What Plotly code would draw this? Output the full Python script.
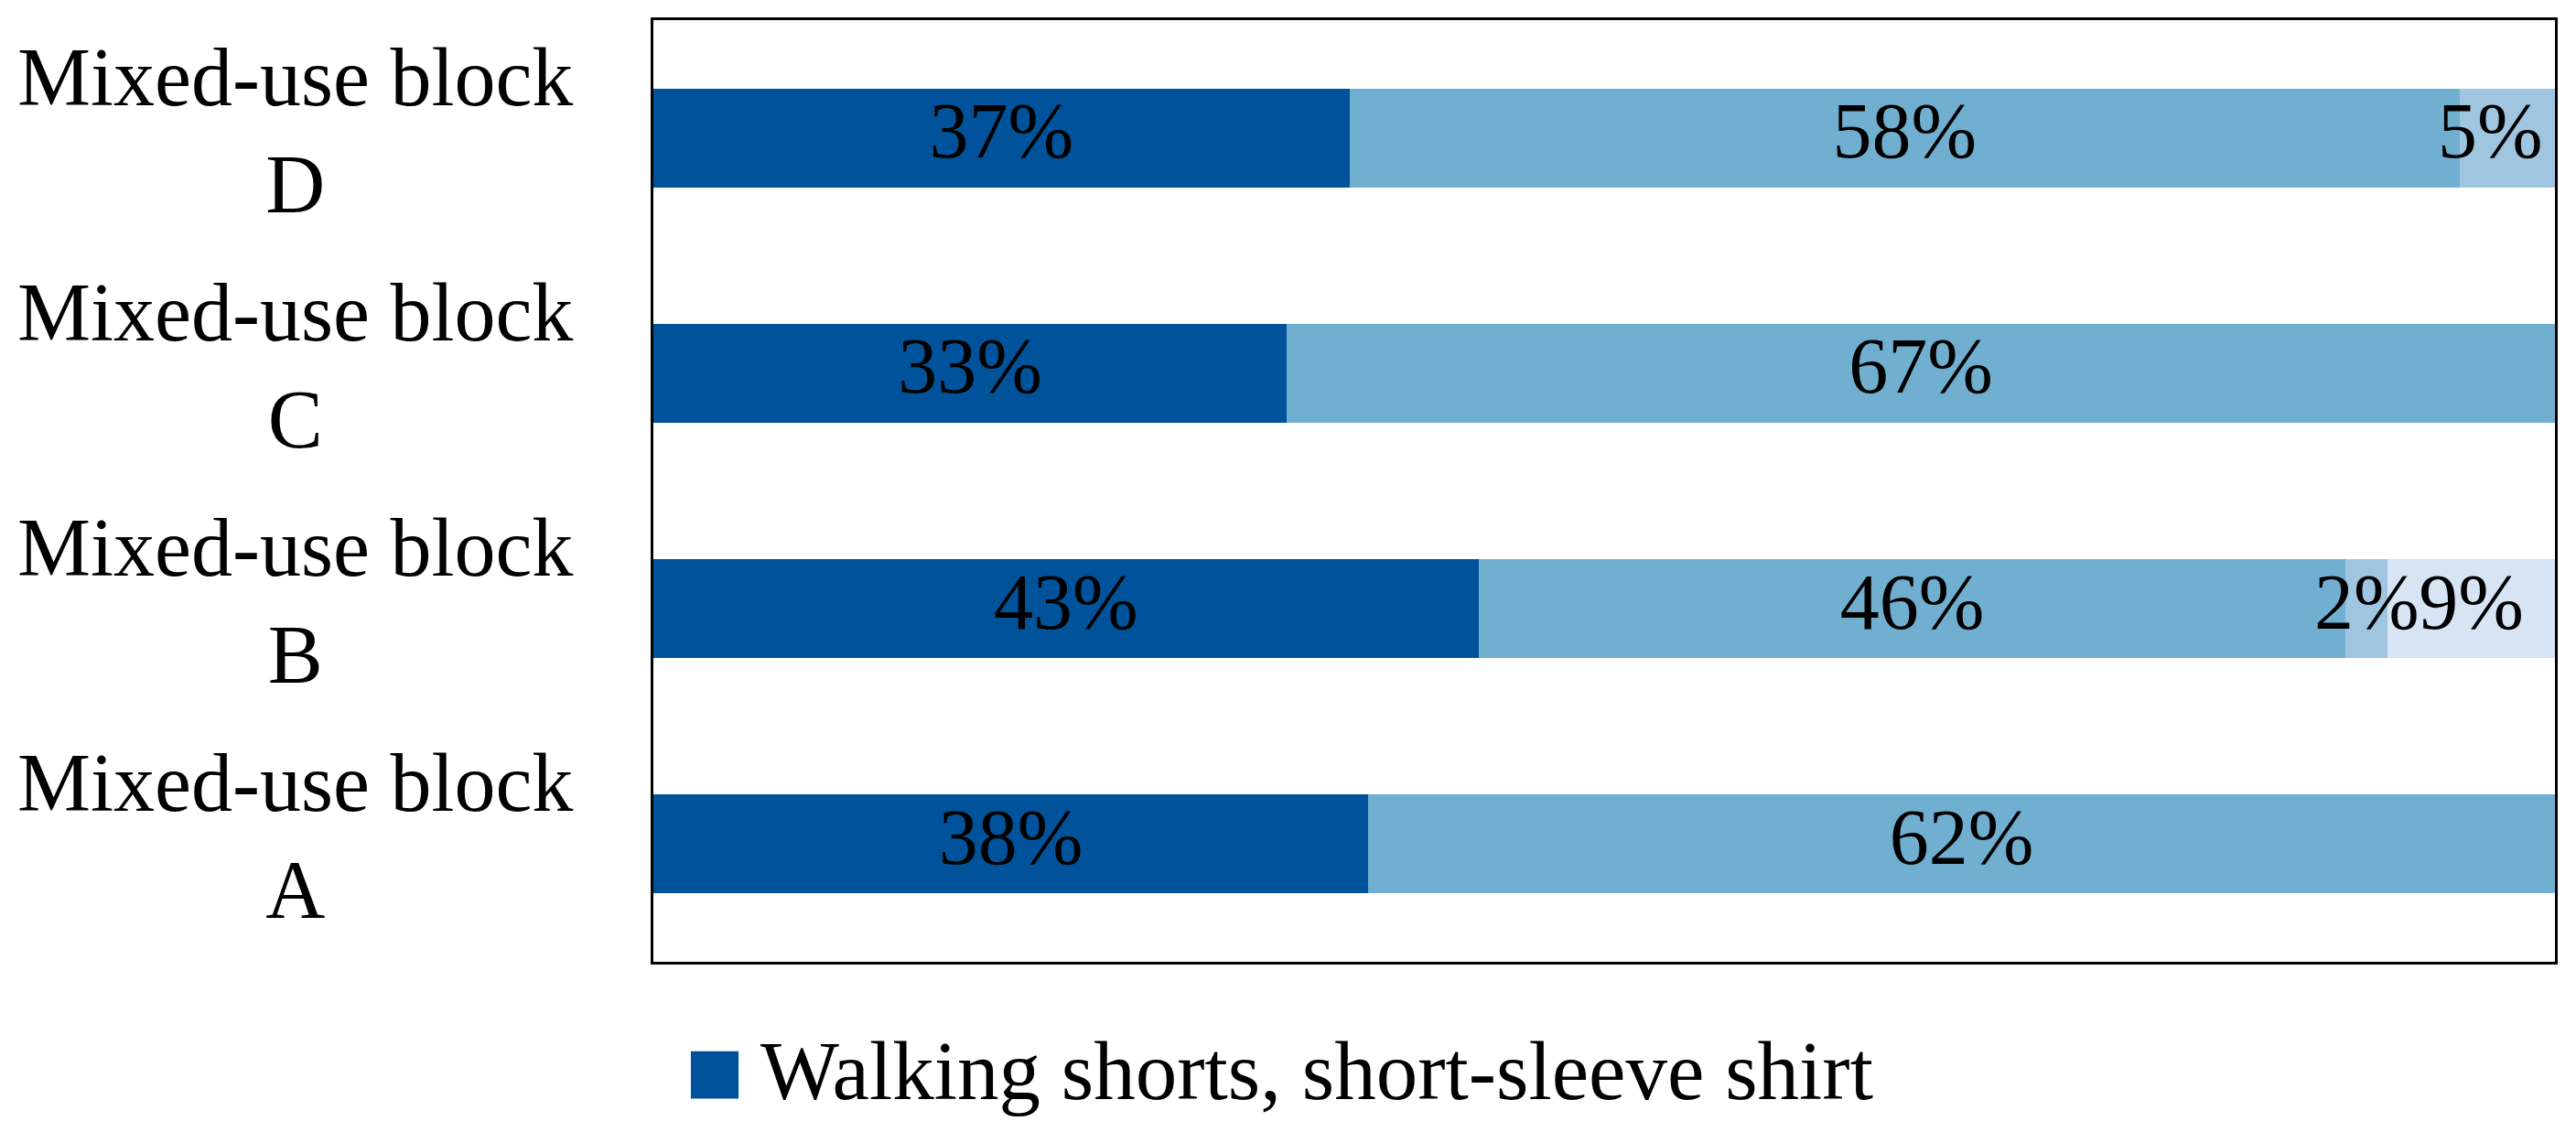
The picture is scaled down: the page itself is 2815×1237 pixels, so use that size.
import plotly.graph_objects as go

categories = ["A", "B", "C", "D"]
cat_labels = ["Mixed-use block<br>A", "Mixed-use block<br>B", "Mixed-use block<br>C", "Mixed-use block<br>D"]
series_names = ["Walking shorts, short-sleeve shirt", "Series 2", "Series 3", "Series 4"]
s1 = [37.6, 43.4, 33.3, 36.6]
s2 = [62.4, 45.6, 66.7, 58.4]
s3 = [None, 2.2, None, 5.0]
s4 = [None, 8.8, None, None]
series_values = [s1, s2, s3, s4]
colors = ["#00539B", "#70AFD0", "#A0C5E0", "#D6E4F3"]

FONT = "Liberation Serif"

fig = go.Figure()
for name, vals, col in zip(series_names, series_values, colors):
    fig.add_trace(go.Bar(
        y=categories, x=vals, name=name, orientation="h",
        marker=dict(color=col, line=dict(width=0)),
        width=0.42, showlegend=False, hoverinfo="skip",
    ))

# data labels drawn on top of all bars (centre of each segment, kept inside the frame)
lab_x, lab_y, lab_t = [], [], []
for i, cat in enumerate(categories):
    cum = 0.0
    for vals in series_values:
        v = vals[i]
        if v is None:
            continue
        mid = cum + v / 2
        lab_x.append(min(mid, 96.6))
        lab_y.append(cat)
        lab_t.append(f"{v:.0f}%")
        cum += v
fig.add_trace(go.Scatter(
    x=lab_x, y=lab_y, text=lab_t, mode="text", textposition="middle center",
    textfont=dict(family=FONT, size=86, color="black"),
    showlegend=False, hoverinfo="skip", cliponaxis=False,
))

# category labels (centered two-line)
for cat, lab in zip(categories, cat_labels):
    fig.add_annotation(x=0, xref="paper", y=cat, yref="y", text=lab, showarrow=False,
                       xanchor="right", yanchor="middle", align="center", xshift=-86, yshift=8,
                       font=dict(family=FONT, size=90, color="black"))

# legend (first series only)
fig.add_shape(type="rect", xref="paper", yref="paper", x0=0.0197, x1=0.0448, y0=-0.1453, y1=-0.0950,
              fillcolor=colors[0], line=dict(width=0))
fig.add_annotation(x=0.0553, xref="paper", y=-0.116, yref="paper", text=series_names[0], showarrow=False,
                   xanchor="left", yanchor="middle", font=dict(family=FONT, size=91, color="black"))

fig.update_layout(
    width=2799, height=1221,
    barmode="stack",
    plot_bgcolor="white", paper_bgcolor="white",
    margin=dict(l=706, r=15, t=11, b=178),
    showlegend=False,
    font=dict(family=FONT, size=90, color="black"),
)
fig.update_xaxes(range=[0, 100], showticklabels=False, showgrid=False, zeroline=False, ticks="",
                 showline=True, mirror=True, linecolor="black", linewidth=2.5)
fig.update_yaxes(categoryorder="array", categoryarray=categories, range=[-0.5, 3.5],
                 showticklabels=False, showgrid=False, zeroline=False, ticks="",
                 showline=True, mirror=True, linecolor="black", linewidth=2.5)

fig.write_html("out.html")
